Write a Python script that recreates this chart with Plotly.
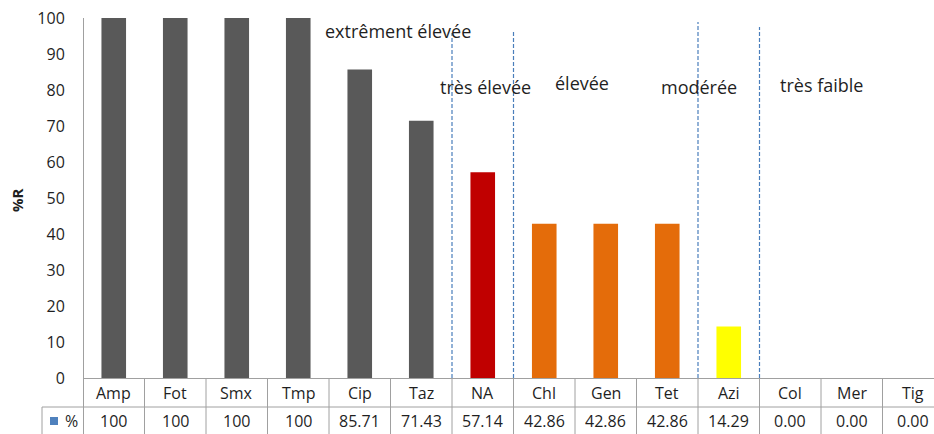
import plotly.graph_objects as go

# Antibiotic resistance rates (%R) by molecule
categories = ["Amp", "Fot", "Smx", "Tmp", "Cip", "Taz", "NA", "Chl", "Gen", "Tet",
              "Azi", "Col", "Mer", "Tig"]
resistance = [100, 100, 100, 100, 85.71, 71.43, 57.14, 42.86, 42.86, 42.86,
              14.29, 0.00, 0.00, 0.00]
levels = ["extrêment élevée"] * 6 + ["très élevée"] + ["élevée"] * 3 + ["modérée"] + ["très faible"] * 3
y_ticks = [0, 10, 20, 30, 40, 50, 60, 70, 80, 90, 100]

level_colors = {
    "extrêment élevée": "#595959",
    "très élevée": "#C00000",
    "élevée": "#E46C0A",
    "modérée": "#FFFF00",
    "très faible": "#BFBFBF",
}
# where each level caption sits: (x in category units, y in %R)
level_caption_pos = {
    "extrêment élevée": (4.62, 96.5),
    "très élevée": (6.05, 80.8),
    "élevée": (7.62, 82.0),
    "modérée": (9.52, 80.8),
    "très faible": (11.5, 81.4),
}
# upper end of the dashed separators between levels (in %R)
separator_tops = [95.8, 96.7, 98.9, 97.5]

W, H = 934, 434
ML, MR, MT, MB = 83, 0, 18, 56
CAT_PX = 61.5
plot_w = W - ML - MR
plot_h = H - MT - MB

def px_to_paper_x(px):
    return (px - ML) / plot_w

def px_to_paper_y(py):
    return (H - MB - py) / plot_h

FONT = "Open Sans"
TEXT = "#1F1F1F"
GRID = "#A0A0A0"

fig = go.Figure(go.Bar(
    x=list(range(len(categories))),
    y=resistance,
    marker=dict(color=[level_colors[l] for l in levels], line=dict(width=0)),
    width=0.4,
    hoverinfo="skip",
))

shapes = []
annotations = []

def label(x, y, text, xref="x", yref="paper", size=16, **kw):
    annotations.append(dict(x=x, y=y, xref=xref, yref=yref, text=text, showarrow=False,
                            xanchor="center", yanchor="middle",
                            font=dict(family=FONT, size=size, color=TEXT), **kw))

# data table below the plot: category row and value row
row1_y = px_to_paper_y(392.5)
row2_y = px_to_paper_y(420.5)
bottom_y = px_to_paper_y(H + 2)
mid_line_y = px_to_paper_y(407)

for i, (cat, val) in enumerate(zip(categories, resistance)):
    label(i, row1_y, cat)
    label(i, row2_y, "100" if val == 100 else f"{val:.2f}")

for i in range(1, len(categories) + 1):
    shapes.append(dict(type="line", xref="x", yref="paper", x0=i - 0.5, x1=i - 0.5,
                       y0=0, y1=bottom_y, line=dict(color=GRID, width=1)))

# horizontal rule between the two table rows, extended under the legend key cell
shapes.append(dict(type="line", xref="paper", yref="paper", x0=px_to_paper_x(42), x1=1,
                   y0=mid_line_y, y1=mid_line_y, line=dict(color=GRID, width=1)))
# left borders of the legend key cell and of the table
shapes.append(dict(type="line", xref="paper", yref="paper", x0=px_to_paper_x(42), x1=px_to_paper_x(42),
                   y0=mid_line_y, y1=bottom_y, line=dict(color=GRID, width=1)))
shapes.append(dict(type="line", xref="paper", yref="paper", x0=px_to_paper_x(83.5), x1=px_to_paper_x(83.5),
                   y0=1, y1=bottom_y, line=dict(color=GRID, width=1)))
# legend key
shapes.append(dict(type="rect", xref="paper", yref="paper",
                   x0=px_to_paper_x(50), x1=px_to_paper_x(58),
                   y0=px_to_paper_y(425), y1=px_to_paper_y(417),
                   fillcolor="#4F81BD", line=dict(width=0)))
label(px_to_paper_x(71), row2_y, "%", xref="paper")

# dashed separators between resistance levels
bounds = [i for i in range(1, len(levels)) if levels[i] != levels[i - 1]]
for b, top in zip(bounds, separator_tops):
    shapes.append(dict(type="line", xref="x", yref="y", x0=b - 0.5, x1=b - 0.5, y0=0, y1=top,
                       line=dict(color="#4A7EBB", width=1.2, dash="4px,2px")))

for name, (cx, cy) in level_caption_pos.items():
    label(cx, cy, name, yref="y", size=18)

# y-axis title
label(px_to_paper_x(17), px_to_paper_y(200), "<b>%R</b>", xref="paper", size=15, textangle=-90)

fig.update_layout(
    width=W, height=H,
    margin=dict(l=ML, r=MR, t=MT, b=MB, pad=0),
    paper_bgcolor="white", plot_bgcolor="white",
    showlegend=False,
    bargap=0.6,
    shapes=shapes,
    annotations=annotations,
    xaxis=dict(range=[-0.5, -0.5 + plot_w / CAT_PX], showticklabels=False, ticks="",
               showgrid=False, zeroline=False, showline=True, linecolor=GRID, linewidth=1),
    yaxis=dict(range=[0, 100], tickvals=y_ticks, ticks="outside", ticklen=14,
               tickcolor="rgba(0,0,0,0)", showgrid=False, zeroline=False,
               showline=False, tickfont=dict(family=FONT, size=16, color=TEXT)),
)

fig.write_html("out.html")
